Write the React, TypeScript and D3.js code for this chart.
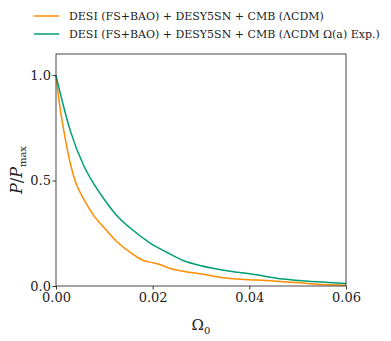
import React, { useEffect, useRef } from 'react'
import * as d3 from 'd3'

const omegaLcdm = [0, 0.0006, 0.0017, 0.0031, 0.0041, 0.0058, 0.0079, 0.0102, 0.0125, 0.016, 0.0181, 0.0201, 0.0215, 0.0236, 0.0263, 0.0298, 0.0332, 0.036, 0.04, 0.0435, 0.047, 0.0504, 0.054, 0.06]
const pLcdm = [1.0, 0.884, 0.726, 0.568, 0.489, 0.41, 0.331, 0.27, 0.212, 0.149, 0.121, 0.11, 0.102, 0.083, 0.07, 0.058, 0.044, 0.036, 0.03, 0.026, 0.02, 0.015, 0.008, 0.003]

const omegaExp = [0, 0.0012, 0.0031, 0.0058, 0.0077, 0.01, 0.0127, 0.0153, 0.0194, 0.0229, 0.0263, 0.0298, 0.036, 0.0401, 0.047, 0.054, 0.06]
const pExp = [1.0, 0.884, 0.726, 0.568, 0.489, 0.41, 0.331, 0.276, 0.205, 0.16, 0.121, 0.097, 0.07, 0.058, 0.033, 0.02, 0.012]

const seriesNames = ['DESI (FS+BAO) + DESY5SN + CMB (ΛCDM)', 'DESI (FS+BAO) + DESY5SN + CMB (ΛCDM Ω(a) Exp.)']
const seriesColors = ['#ff8c00', '#009e73']
const xTicks = [0, 0.02, 0.04, 0.06]
const yTicks = [0, 0.5, 1.0]

const FONT = "'DejaVu Serif', serif"

const App = () => {
  const svgRef = useRef<SVGSVGElement>(null)

  useEffect(() => {
    const svg = d3.select(svgRef.current)
    svg.selectAll('*').remove()

    const margin = { top: 54, right: 45, bottom: 55, left: 56 }
    const W = 391
    const H = 341
    const width = W - margin.left - margin.right
    const height = H - margin.top - margin.bottom

    const x = d3.scaleLinear().domain([0, 0.06]).range([0, width])
    const y = d3.scaleLinear().domain([0, 1.1]).range([height, 0])

    const g = svg.append('g').attr('transform', `translate(${margin.left},${margin.top})`)

    const line = d3
      .line<[number, number]>()
      .x((d) => x(d[0]))
      .y((d) => y(d[1]))
      .curve(d3.curveMonotoneX)

    const series = [
      d3.zip(omegaLcdm, pLcdm) as [number, number][],
      d3.zip(omegaExp, pExp) as [number, number][],
    ]

    series.forEach((s, i) => {
      g.append('path')
        .attr('d', line(s))
        .attr('fill', 'none')
        .attr('stroke', seriesColors[i])
        .attr('stroke-width', 1.5)
    })

    g.append('rect')
      .attr('width', width)
      .attr('height', height)
      .attr('fill', 'none')
      .attr('stroke', '#333')
      .attr('stroke-width', 0.9)

    const xAxis = g
      .append('g')
      .attr('transform', `translate(0,${height})`)
      .call(d3.axisBottom(x).tickValues(xTicks).tickFormat(d3.format('.2f')).tickSize(3.5).tickPadding(3))
    const yAxis = g
      .append('g')
      .call(d3.axisLeft(y).tickValues(yTicks).tickFormat(d3.format('.1f')).tickSize(3.5).tickPadding(1.5))

    ;[xAxis, yAxis].forEach((a) => {
      a.select('.domain').remove()
      a.selectAll('line').attr('stroke', '#333')
      a.selectAll('text').style('font-family', FONT).attr('font-size', 13).attr('fill', '#222')
    })

    // axis labels
    const xl = svg
      .append('text')
      .attr('x', margin.left + width / 2)
      .attr('y', 330)
      .attr('text-anchor', 'middle')
      .style('font-family', FONT)
      .attr('font-size', 15)
      .attr('fill', '#222')
    xl.append('tspan').text('Ω')
    xl.append('tspan').attr('font-size', 10).attr('dy', 4).text('0')

    const yl = svg
      .append('text')
      .attr('transform', `translate(22,${margin.top + y(0.55)}) rotate(-90)`)
      .attr('text-anchor', 'middle')
      .style('font-family', FONT)
      .attr('font-size', 16)
      .attr('fill', '#222')
    yl.append('tspan').attr('font-style', 'italic').text('P')
    yl.append('tspan').text('/')
    yl.append('tspan').attr('font-style', 'italic').text('P')
    yl.append('tspan').attr('font-size', 10).attr('dy', 4).text('max')

    // legend
    const legend = svg.append('g').attr('transform', 'translate(34,16)')
    seriesNames.forEach((name, i) => {
      const row = legend.append('g').attr('transform', `translate(0,${i * 18})`)
      row.append('line').attr('x1', 0).attr('x2', 25).attr('stroke', seriesColors[i]).attr('stroke-width', 1.5)
      row
        .append('text')
        .attr('x', 35)
        .attr('dy', '0.35em')
        .style('font-family', FONT)
        .attr('font-size', 11)
        .attr('fill', '#222')
        .text(name)
    })
  }, [])

  return <svg ref={svgRef} width={391} height={341} style={{ position: 'absolute', left: 0, top: 0 }}></svg>
}

export default App
